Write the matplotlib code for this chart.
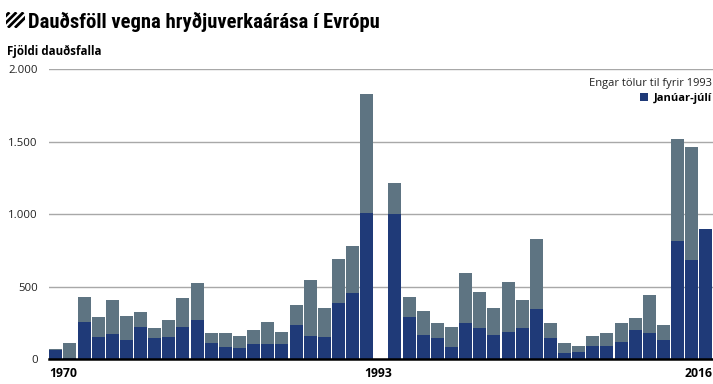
import matplotlib
matplotlib.use("Agg")
import matplotlib.pyplot as plt
import matplotlib.transforms as mtransforms
from matplotlib.patches import Rectangle
from matplotlib.lines import Line2D
import numpy as np

# --- data; no data for 1993 ---
years = list(range(1970, 1993)) + list(range(1994, 2017))
totals = [73, 110, 429, 292, 411, 296, 328, 218, 273, 420, 526, 181, 181, 161,
          200, 259, 188, 372, 544, 354, 691, 781, 1828,
          1217, 432, 331, 250, 225, 592, 462, 354, 530, 409, 831, 253, 110, 94,
          161, 179, 253, 282, 441, 237, 1520, 1460, np.nan]
jan_jul = [64, 11, 259, 152, 172, 133, 225, 145, 152, 225, 273, 113, 87, 80,
           106, 106, 106, 234, 163, 156, 390, 455, 1006,
           1003, 292, 170, 145, 83, 250, 218, 170, 186, 218, 349, 145, 46, 51,
           94, 92, 122, 200, 179, 135, 815, 684, 895]
yticks = [0, 500, 1000, 1500, 2000]
ytick_labels = ["0", "500", "1.000", "1.500", "2.000"]

NAVY = "#1f3a78"
GREY = "#5e7482"
W, H = 713, 384

plt.rcParams["font.family"] = ["Open Sans", "DejaVu Sans"]

fig = plt.figure(figsize=(W / 100, H / 100), dpi=100)
ax = fig.add_axes([48.7 / W, 1 - 359.3 / H, (713 - 48.7) / W, (359.3 - 69) / H])

tot = np.array(totals, dtype=float)
mask = ~np.isnan(tot)
ax.bar(np.array(years)[mask], tot[mask], width=0.92, color=GREY, zorder=2)
ax.bar(years, jan_jul, width=0.92, color=NAVY, zorder=3)

ax.set_xlim(1969.5, 2016.5)
ax.set_ylim(0, 2000)
ax.set_yticks(yticks)
ax.set_yticklabels(ytick_labels, fontsize=8.2, color="#222222")
ax.tick_params(axis="y", length=0, pad=8)
ax.set_xticks([])
ax.grid(True, axis="y", color="#a8a8a8", lw=1.0, zorder=0)
ax.set_axisbelow(True)
for s in ("top", "right", "left"):
    ax.spines[s].set_visible(False)
ax.spines["bottom"].set_color("black")
ax.spines["bottom"].set_linewidth(1.8)
ax.spines["bottom"].set_zorder(5)

tr = mtransforms.blended_transform_factory(ax.transData, ax.transAxes)
ax.text(1969.54, -0.062, "1970", transform=tr, ha="left", va="baseline",
        fontsize=8.8, fontweight="bold")
ax.text(1992.8, -0.062, "1993", transform=tr, ha="center", va="baseline",
        fontsize=8.8, fontweight="bold")
ax.text(2016.45, -0.062, "2016", transform=tr, ha="right", va="baseline",
        fontsize=8.8, fontweight="bold")

# title with striped icon
fig.text(28 / W, 1 - 27.5 / H, "Dauðsföll vegna hryðjuverkaárása í Evrópu",
         fontsize=14.9, fontweight="bold", va="baseline", ha="left",
         family=["Roboto Condensed", "Liberation Sans Narrow", "Roboto",
                 "DejaVu Sans"])
clip = Rectangle((6 / W, 1 - 27.7 / H), 19 / W, 15.4 / H,
                 transform=fig.transFigure, fill=False, lw=0)
fig.add_artist(clip)
for off in (-12, -5, 2, 9):
    x0, y0 = 6 + off, 27.7
    ln = Line2D([x0 / W, (x0 + 15.4) / W], [1 - y0 / H, 1 - 12.3 / H],
                transform=fig.transFigure, color="black", lw=2.0,
                solid_capstyle="butt")
    ln.set_clip_path(clip)
    fig.add_artist(ln)

fig.text(7 / W, 1 - 55 / H, "Fjöldi dauðsfalla", fontsize=8.3,
         fontweight="bold", va="baseline", ha="left")

# legend
fig.text(712 / W, 1 - 86 / H, "Engar tölur til fyrir 1993", fontsize=8.0,
         va="baseline", ha="right", color="#222222")
fig.text(712 / W, 1 - 101 / H, "Janúar-júlí", fontsize=8.0, fontweight="bold",
         va="baseline", ha="right")
fig.add_artist(Rectangle((640 / W, 1 - 101 / H), 8 / W, 8 / H,
                         transform=fig.transFigure, color=NAVY, lw=0))

fig.savefig("out.png", dpi=100)
